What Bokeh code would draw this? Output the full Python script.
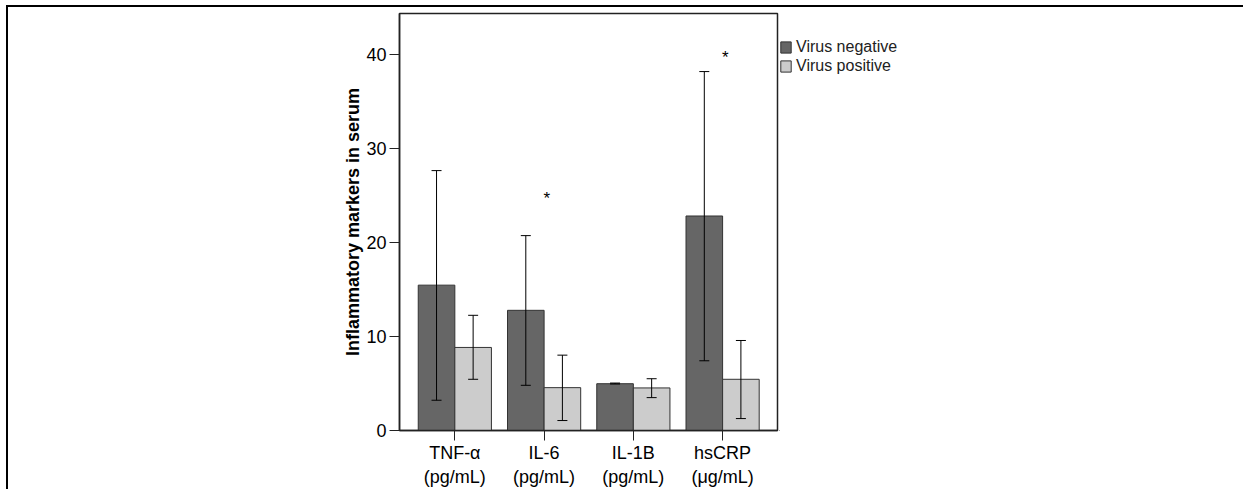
import numpy as np
from bokeh.plotting import figure
from bokeh.layouts import row
from bokeh.models import (ColumnDataSource, Range1d, FixedTicker, Whisker, TeeHead,
                          Legend, LegendItem)
from bokeh.core.properties import value
from bokeh.embed import file_html
from bokeh.resources import INLINE

# ---- data ----
categories = ["TNF-α\n(pg/mL)", "IL-6\n(pg/mL)", "IL-1B\n(pg/mL)", "hsCRP\n(μg/mL)"]
series_names = ["Virus negative", "Virus positive"]
neg_mean = [15.47, 12.79, 4.98, 22.83]
neg_lower = [3.22, 4.81, 4.95, 7.42]
neg_upper = [27.66, 20.74, 5.05, 38.20]
pos_mean = [8.84, 4.56, 4.53, 5.45]
pos_lower = [5.45, 1.06, 3.50, 1.27]
pos_upper = [12.26, 8.02, 5.51, 9.58]
sig_category = [2, 4]          # 1-based category index with significance mark
sig_y = [25.09, 40.10]
y_ticks = [0, 10, 20, 30, 40]

FONT = "Liberation Sans"
DARK = "#666666"
LIGHT = "#cccccc"
EDGE = "#333333"

idx = np.arange(1, len(categories) + 1)
bw = 0.41
off = bw / 2

p = figure(width=771, height=482, output_backend="svg", toolbar_location=None,
           x_range=Range1d(0.38, 4.615), y_range=Range1d(0, 44.38),
           min_border_left=391, min_border_right=2, min_border_top=6,
           min_border_bottom=57)

p.background_fill_color = "white"
p.border_fill_color = "white"
p.outline_line_color = "#222222"
p.outline_line_width = 1.5
p.xgrid.visible = False
p.ygrid.visible = False

src_neg = ColumnDataSource(dict(x=idx - off, top=neg_mean, lower=neg_lower, upper=neg_upper))
src_pos = ColumnDataSource(dict(x=idx + off, top=pos_mean, lower=pos_lower, upper=pos_upper))

r_neg = p.vbar(x="x", top="top", width=bw, source=src_neg, fill_color=DARK,
               line_color=EDGE, line_width=1)
r_pos = p.vbar(x="x", top="top", width=bw, source=src_pos, fill_color=LIGHT,
               line_color=EDGE, line_width=1)

for src in (src_neg, src_pos):
    w = Whisker(base="x", upper="upper", lower="lower", source=src,
                line_color="black", line_width=1,
                upper_head=TeeHead(size=10, line_color="black", line_width=1),
                lower_head=TeeHead(size=10, line_color="black", line_width=1))
    w.level = "overlay"
    p.add_layout(w)

p.text(x=[c + 0.03 for c in sig_category], y=sig_y, text=["*"] * len(sig_y),
       text_font=value(FONT), text_font_size="17px", text_color="black",
       text_align="center", text_baseline="middle", y_offset=4)

# axes
for ax in (p.xaxis[0], p.yaxis[0]):
    ax.axis_line_color = "#222222"
    ax.axis_line_width = 1.5
    ax.major_tick_line_color = "#222222"
    ax.major_tick_in = 0
    ax.major_tick_out = 10
    ax.minor_tick_line_color = None
    ax.major_label_text_font = FONT
    ax.major_label_text_font_size = "18px"
    ax.major_label_text_color = "black"

p.yaxis.ticker = FixedTicker(ticks=y_ticks)
p.yaxis.major_label_standoff = 3
p.yaxis.axis_label = "Inflammatory markers in serum"
p.yaxis.axis_label_text_font = FONT
p.yaxis.axis_label_text_font_style = "bold"
p.yaxis.axis_label_text_font_size = "18px"
p.yaxis.axis_label_text_color = "black"
p.yaxis.axis_label_standoff = 0

p.xaxis.ticker = FixedTicker(ticks=list(idx))
p.xaxis.major_label_overrides = {int(i): c for i, c in zip(idx, categories)}
p.xaxis.major_label_standoff = 2

# ---- legend panel (separate figure to the right) ----
pl = figure(width=464, height=482, output_backend="svg", toolbar_location=None,
            x_range=Range1d(0, 1), y_range=Range1d(0, 1),
            min_border=0, outline_line_color=None)
pl.axis.visible = False
pl.grid.visible = False
pl.background_fill_color = "white"
pl.border_fill_color = "white"
# proxy renderers (outside the visible range) so the legend can draw swatches
l_neg = pl.vbar(x=[-10], top=[0], width=0.1, fill_color=DARK, line_color=EDGE, line_width=1)
l_pos = pl.vbar(x=[-10], top=[0], width=0.1, fill_color=LIGHT, line_color=EDGE, line_width=1)

legend = Legend(items=[LegendItem(label=series_names[0], renderers=[l_neg]),
                       LegendItem(label=series_names[1], renderers=[l_pos])],
                location=(0, 355), orientation="vertical",
                border_line_color=None, background_fill_alpha=0,
                glyph_width=13, glyph_height=14, label_standoff=4,
                label_text_font=FONT, label_text_font_size="16px",
                label_text_color="#222222",
                padding=0, margin=0, spacing=1)
pl.add_layout(legend)

layout = row(p, pl, spacing=0)
layout.styles = {"border-top": "2px solid black", "border-left": "2px solid black"}
layout.margin = (5, 0, 0, 6)

open("out.html", "w").write(file_html(layout, INLINE))
